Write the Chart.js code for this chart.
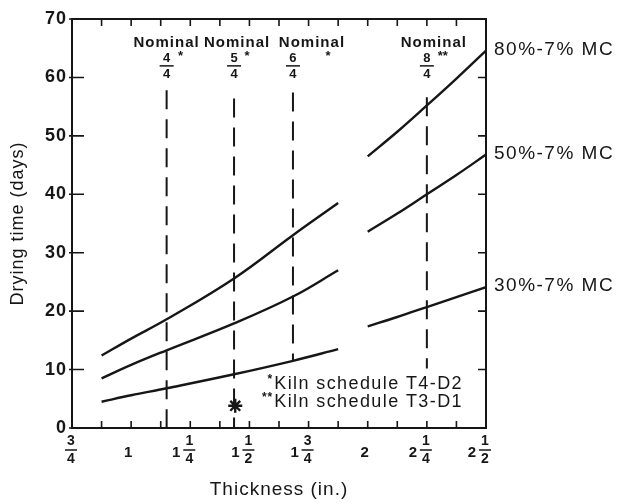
<!DOCTYPE html>
<html lang="en">
<head>
    <meta charset="UTF-8">
    <title>Drying time vs thickness</title>
    <script src="https://cdn.jsdelivr.net/npm/chart.js"></script>
    <style>
        body { margin: 0; background: #ffffff; }
        .chart-box { width: 619px; height: 503px; }
    </style>
</head>
<body>
    <div class="chart-box"><canvas id="dryChart"></canvas></div>

    <script>
        // thickness (in.) where values were read, two segments per curve
        const thicknessSeg1 = [0.875, 1.0, 1.15, 1.435, 1.684, 1.875];
        const thicknessSeg2 = [2.0, 2.125, 2.25, 2.375, 2.5];

        // drying time (days)
        const mc80Seg1 = [12.4, 15.3, 18.6, 25.6, 33.0, 38.5];
        const mc80Seg2 = [46.5, 50.7, 55.2, 59.8, 64.6];
        const mc50Seg1 = [8.5, 10.8, 13.3, 17.9, 22.5, 27.0];
        const mc50Seg2 = [33.6, 36.7, 40.0, 43.3, 46.8];
        const mc30Seg1 = [4.5, 5.6, 6.8, 9.2, 11.5, 13.5];
        const mc30Seg2 = [17.4, 19.0, 20.7, 22.4, 24.1];
        const curveLabels = ['80%-7% MC', '50%-7% MC', '30%-7% MC'];

        // nominal lumber sizes (dashed verticals)
        const nominalX = [1.15, 1.435, 1.684, 2.25];
        const nominalTop = [57.8, 56.4, 57.4, 56.6];
        const nominalBottom = [0, 0, 11.5, 10.2];
        const nominalNum = ['4', '5', '6', '8'];
        const nominalMark = ['*', '*', '*', '**'];

        // star marker on the 5/4 line
        const starX = [1.44];
        const starY = [3.8];

        const kilnMarks = ['*', '**'];
        const kilnNotes = ['Kiln schedule T4-D2', 'Kiln schedule T3-D1'];

        // x tick labels as mixed fractions
        const xTickValues = [0.75, 1, 1.25, 1.5, 1.75, 2, 2.25, 2.5];
        const xTickWhole = ['', '1', '1', '1', '1', '2', '2', '2'];
        const xTickNum = ['3', '', '1', '1', '3', '', '1', '1'];
        const xTickDen = ['4', '', '4', '2', '4', '', '4', '2'];

        const FONT = "'Liberation Sans', Arial, Helvetica, sans-serif";
        const INK = '#161616';
        const nominalLabelShift = [0, 3, 19, 7];
        const nominalMarkShift = [14, 13, 35, 16];

        function curve(seg1, seg2) {
            const pts = thicknessSeg1.map((t, i) => ({ x: t, y: seg1[i] }));
            pts.push({ x: 1.94, y: null });
            thicknessSeg2.forEach((t, i) => pts.push({ x: t, y: seg2[i] }));
            return pts;
        }

        const datasets = [
            { data: curve(mc80Seg1, mc80Seg2) },
            { data: curve(mc50Seg1, mc50Seg2) },
            { data: curve(mc30Seg1, mc30Seg2) }
        ].map(d => Object.assign(d, {
            borderColor: INK, borderWidth: 2.4, pointRadius: 0,
            tension: 0.4, spanGaps: false
        }));

        nominalX.forEach((nx, i) => {
            datasets.push({
                data: [{ x: nx, y: nominalTop[i] }, { x: nx, y: nominalBottom[i] }],
                borderColor: INK, borderWidth: 2, borderDash: [19, 10], pointRadius: 0
            });
        });

        datasets.push({
            data: starX.map((sx, i) => ({ x: sx, y: starY[i] })),
            showLine: false, pointStyle: 'star', pointRadius: 7,
            borderColor: INK, pointBackgroundColor: '#fff', pointBorderWidth: 2.4
        });

        const spacing = {
            id: 'spacing',
            beforeDraw(chart) { chart.ctx.letterSpacing = '1px'; }
        };

        const drawExtras = {
            id: 'drawExtras',
            afterDatasetsDraw(chart) {
                const { ctx, chartArea: a, scales: { x, y } } = chart;
                ctx.save();
                ctx.strokeStyle = INK;
                ctx.fillStyle = INK;

                // frame
                ctx.lineWidth = 2;
                ctx.strokeRect(a.left, a.top, a.right - a.left, a.bottom - a.top);

                // inward tick marks
                ctx.lineWidth = 1.6;
                ctx.beginPath();
                x.ticks.forEach(t => {
                    const px = x.getPixelForValue(t.value);
                    ctx.moveTo(px, a.bottom); ctx.lineTo(px, a.bottom - 7);
                    ctx.moveTo(px, a.top); ctx.lineTo(px, a.top + 7);
                });
                y.ticks.forEach(t => {
                    const py = y.getPixelForValue(t.value);
                    ctx.moveTo(a.left - 3, py); ctx.lineTo(a.left + 12, py);
                    ctx.moveTo(a.right, py); ctx.lineTo(a.right - 8, py);
                });
                ctx.stroke();

                // x tick labels (fractions)
                ctx.textAlign = 'center';
                ctx.textBaseline = 'middle';
                ctx.letterSpacing = '0px';
                xTickValues.forEach((v, i) => {
                    const px = x.getPixelForValue(v);
                    if (xTickNum[i]) {
                        const fx = px - 1;
                        ctx.font = 'bold 14px ' + FONT;
                        ctx.fillText(xTickNum[i], fx, a.bottom + 13);
                        ctx.fillText(xTickDen[i], fx, a.bottom + 31);
                        ctx.lineWidth = 1.5;
                        ctx.beginPath();
                        ctx.moveTo(fx - 6, a.bottom + 22); ctx.lineTo(fx + 6, a.bottom + 22);
                        ctx.stroke();
                        if (xTickWhole[i]) {
                            ctx.font = 'bold 15px ' + FONT;
                            ctx.fillText(xTickWhole[i], px - 14, a.bottom + 25);
                        }
                    } else {
                        ctx.font = 'bold 15px ' + FONT;
                        ctx.fillText(xTickWhole[i], px - 3, a.bottom + 25);
                    }
                });

                // nominal size labels
                nominalX.forEach((nx, i) => {
                    const px = x.getPixelForValue(nx);
                    const py = y.getPixelForValue(66.0);
                    ctx.letterSpacing = '1px';
                    ctx.font = 'bold 15px ' + FONT;
                    ctx.fillText('Nominal', px + nominalLabelShift[i], py);
                    ctx.letterSpacing = '0px';
                    ctx.font = 'bold 13px ' + FONT;
                    ctx.fillText(nominalNum[i], px, py + 16);
                    ctx.fillText('4', px, py + 32);
                    ctx.fillText(nominalMark[i], px + nominalMarkShift[i], py + 14);
                    ctx.lineWidth = 1.5;
                    ctx.beginPath();
                    ctx.moveTo(px - 7, py + 23.5); ctx.lineTo(px + 7, py + 23.5);
                    ctx.stroke();
                });

                // curve labels at right
                ctx.textAlign = 'left';
                ctx.letterSpacing = '1.5px';
                ctx.font = '19px ' + FONT;
                [mc80Seg2, mc50Seg2, mc30Seg2].forEach((seg, i) => {
                    ctx.fillText(curveLabels[i], a.right + 8, y.getPixelForValue(seg[seg.length - 1]) - 1);
                });

                // kiln schedule notes
                ctx.letterSpacing = '1.4px';
                ctx.font = '18px ' + FONT;
                const noteX = x.getPixelForValue(1.605);
                const noteY = [y.getPixelForValue(7.6), y.getPixelForValue(4.5)];
                noteY.forEach((ny, i) => ctx.fillText(kilnNotes[i], noteX, ny));
                ctx.letterSpacing = '1px';
                ctx.textAlign = 'right';
                ctx.font = 'bold 12px ' + FONT;
                noteY.forEach((ny, i) => ctx.fillText(kilnMarks[i], noteX - 1, ny - 4));

                ctx.restore();
            }
        };

        const chart = new Chart(document.getElementById('dryChart'), {
            type: 'line',
            data: { datasets: datasets },
            options: {
                responsive: true,
                maintainAspectRatio: false,
                animation: false,
                layout: { padding: { top: 19, right: 133, left: 0, bottom: 0 } },
                plugins: { legend: { display: false }, tooltip: { enabled: false } },
                scales: {
                    x: {
                        type: 'linear',
                        min: 0.75, max: 2.5,
                        ticks: { stepSize: 0.125, display: false },
                        grid: { display: false, drawTicks: false },
                        border: { display: false },
                        title: {
                            display: true, text: 'Thickness (in.)', color: INK,
                            font: { family: FONT, size: 19 }, padding: { top: 0, bottom: 2 }
                        },
                        afterFit(scale) { scale.height = 75; }
                    },
                    y: {
                        min: 0, max: 70,
                        ticks: {
                            stepSize: 10, padding: 5, color: INK,
                            font: { family: FONT, size: 18, weight: 'bold' }
                        },
                        grid: { display: false, drawTicks: false },
                        border: { display: false },
                        title: {
                            display: true, text: 'Drying time (days)', color: INK,
                            font: { family: FONT, size: 18 }, padding: { top: 7, bottom: 0 }
                        },
                        afterFit(scale) { scale.width = 72; }
                    }
                }
            },
            plugins: [spacing, drawExtras]
        });
    </script>
</body>
</html>
